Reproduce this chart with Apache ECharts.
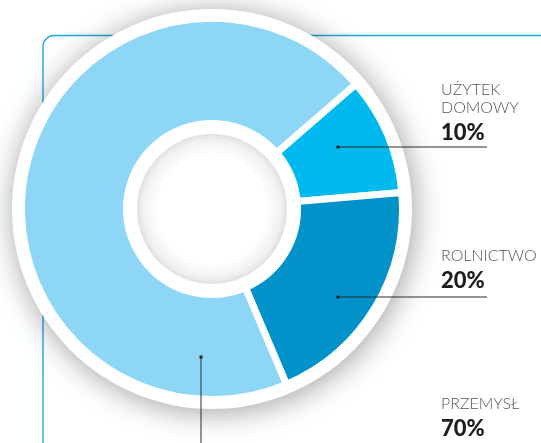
<!DOCTYPE html>
<html>
<head>
<meta charset="utf-8">
<script src="https://cdn.jsdelivr.net/npm/echarts@6/dist/echarts.min.js"></script>
<style>
html,body{margin:0;padding:0;background:#fff;}
#c{width:541px;height:443px;}
</style>
</head>
<body>
<div id="c"></div>
<script>
// ---- data ----
const categories = ['UŻYTEK\nDOMOWY', 'ROLNICTWO', 'PRZEMYSŁ'];
const values = [10, 20, 70];
const sliceColors = ['#00b9ef', '#0092c8', '#8ed6f6'];

// ---- layout (annotation anchors) ----
const center = [212, 209];
const leaders = [
  { dot: [338, 147], end: [487, 147], text: [441, 121.5] },
  { dot: [338, 297], end: [487, 297], text: [441, 269.5] },
  { dot: [201, 357], end: [201, 443], text: [441, 418] }
];

const chart = echarts.init(document.getElementById('c'), null, { renderer: 'canvas' });

const pieData = categories.map((c, i) => ({
  name: c,
  value: values[i],
  itemStyle: { color: sliceColors[i] }
}));

const annot = [];
leaders.forEach((l, i) => {
  annot.push({
    type: 'line', z: 200, silent: true,
    shape: { x1: l.dot[0], y1: l.dot[1], x2: l.end[0], y2: l.end[1] },
    style: { stroke: '#2a2a2a', lineWidth: 1 }
  });
  annot.push({
    type: 'rect', z: 201, silent: true,
    shape: { x: l.dot[0] - 1.5, y: l.dot[1] - 1.5, width: 3, height: 3 },
    style: { fill: '#222' }
  });
  annot.push({
    type: 'text', z: 202, silent: true,
    x: l.text[0], y: l.text[1],
    style: {
      text: values[i] + '%', fill: '#1e1e1e',
      font: '900 22px Lato', align: 'left', verticalAlign: 'top'
    }
  });
  const lines = categories[i].split('\n');
  lines.forEach((t, k) => {
    annot.push({
      type: 'text', z: 202, silent: true,
      x: l.text[0], y: l.text[1] - 22 - (lines.length - 1 - k) * 17.5,
      style: {
        text: t, fill: '#555',
        font: '300 16px Lato', align: 'left', verticalAlign: 'top'
      }
    });
  });
});

chart.setOption({
  animation: false,
  backgroundColor: '#fff',
  graphic: [
    {
      type: 'rect', z: 0, silent: true,
      shape: { x: 43, y: 35.5, width: 600, height: 600, r: 11 },
      style: { fill: 'none', stroke: '#1fa8e2', lineWidth: 1.4 }
    }
  ].concat(annot),
  series: [
    {
      type: 'pie', silent: true, z: 1,
      center: center, radius: [0, 200],
      label: { show: false }, labelLine: { show: false },
      data: [{ value: 1, itemStyle: {
        color: '#fff',
        shadowBlur: 30, shadowColor: 'rgba(0,0,0,0.38)', shadowOffsetX: 2, shadowOffsetY: 3
      } }]
    },
    {
      type: 'pie', silent: true, z: 3,
      center: center, radius: [85.5, 190.5],
      startAngle: 41, clockwise: true,
      itemStyle: { borderColor: '#fff', borderWidth: 7 },
      label: { show: false }, labelLine: { show: false },
      data: pieData
    },
    {
      type: 'pie', silent: true, z: 4,
      center: center, radius: [0, 75],
      label: { show: false }, labelLine: { show: false },
      data: [{ value: 1, itemStyle: {
        color: {
          type: 'radial', x: 0.5, y: 0.5, r: 0.5,
          colorStops: [
            { offset: 0, color: '#ffffff' },
            { offset: 0.72, color: '#ffffff' },
            { offset: 0.92, color: '#f1f1f1' },
            { offset: 1, color: '#e0e0e0' }
          ]
        }
      } }]
    }
  ]
});
</script>
</body>
</html>
